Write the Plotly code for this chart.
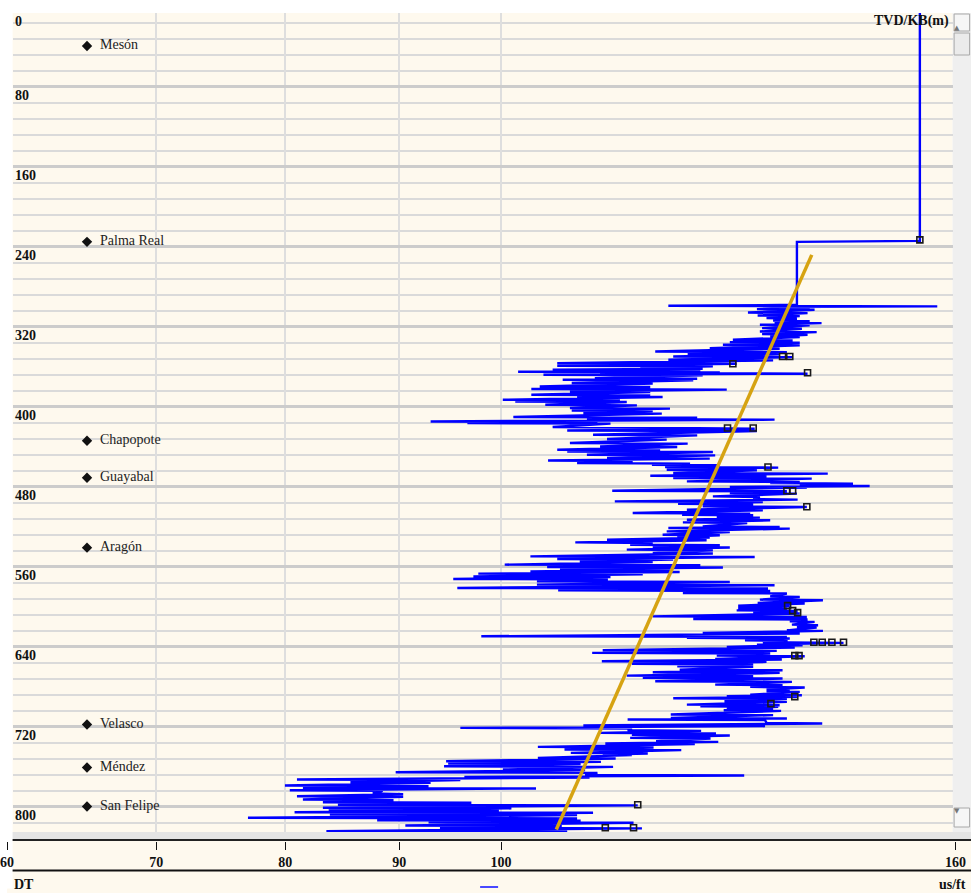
import math
import plotly.graph_objects as go

FIG_W, H = 983, 893

# --- Sonic (DT) log, us/ft vs TVD below KB (m) -------------------------------
# Upper, sparsely sampled part of the log
top_depth = [0, 234, 235, 298]
top_dt = [154.2, 154.2, 135.8, 135.8]

# Dense part: for every depth row, the low and high transit time seen in it
row_depth = [
    299.0, 300.3, 302.3, 305.7, 308.7, 311.3, 313.7, 315.7, 318.0, 321.3,
    324.7, 327.3, 329.7, 333.0, 335.3, 338.0, 341.3, 344.7, 347.0, 349.7,
    353.0, 356.3, 359.0, 361.3, 363.0, 365.0, 366.3, 368.0, 371.3, 373.0,
    376.3, 379.7, 382.3, 384.7, 388.0, 389.7, 393.0, 394.7, 398.0, 401.3,
    403.7, 406.3, 410.3, 412.3, 414.7, 416.3, 420.3, 421.3, 423.7, 428.0,
    432.3, 436.3, 439.7, 443.0, 444.7, 448.0, 451.3, 453.7, 456.3, 458.0,
    460.3, 463.0, 466.3, 469.0, 471.3, 474.7, 476.3, 478.7, 480.3, 484.0,
    486.3, 489.7, 492.3, 494.7, 497.0, 499.7, 503.0, 506.3, 508.0, 510.3,
    513.0, 515.7, 519.7, 521.3, 524.7, 528.0, 530.3, 533.0, 535.7, 538.0,
    540.3, 543.0, 546.3, 549.7, 552.3, 554.7, 558.0, 560.3, 562.3, 564.7,
    567.0, 569.7, 572.3, 574.7, 578.0, 581.3, 583.7, 586.3, 589.7, 593.0,
    596.3, 599.0, 601.3, 603.7, 606.3, 609.7, 612.3, 614.7, 618.0, 620.3,
    623.7, 626.3, 629.7, 631.3, 633.7, 635.7, 638.0, 640.3, 643.7, 646.3,
    649.0, 652.3, 654.7, 657.3, 659.7, 663.0, 665.7, 669.0, 671.3, 674.7,
    678.0, 680.3, 683.0, 684.7, 688.0, 689.7, 691.7, 694.7, 698.0, 699.7,
    702.3, 703.7, 708.0, 711.3, 713.0, 716.3, 719.0, 721.3, 723.7, 726.3,
    728.3, 731.3, 734.7, 737.0, 740.3, 743.0, 746.3, 748.0, 751.3, 754.7,
    757.0, 759.7, 763.0, 765.7, 768.3, 770.3, 773.0, 775.7, 779.0, 781.3,
    783.7, 787.0, 789.7, 793.0, 795.7, 798.3, 801.3, 803.7, 805.7, 808.0,
    811.3, 813.7, 815.7, 819.0, 821.3, 824.7,
]
dt_low = [
    118.9, 132.3, 130.3, 129.1, 130.4, 131.6, 132.5, 132.7, 130.7, 131.0,
    130.7, 131.0, 132.1, 127.1, 126.7, 125.8, 124.1, 117.3, 121.3, 119.5,
    118.9, 106.0, 106.0, 115.5, 105.5, 101.8, 110.8, 104.5, 110.2, 106.6,
    107.6, 104.1, 103.2, 107.4, 103.2, 108.2, 100.2, 101.5, 104.7, 107.4,
    107.6, 108.9, 101.3, 109.3, 93.0, 96.6, 105.5, 122.9, 107.1, 110.0,
    111.6, 107.4, 110.8, 106.0, 107.1, 109.3, 111.6, 105.0, 108.2, 116.9,
    118.5, 118.7, 119.5, 116.7, 119.5, 121.2, 132.1, 136.2, 126.7, 112.2,
    126.7, 124.5, 129.8, 112.5, 120.1, 123.2, 121.2, 114.6, 120.6, 125.0,
    121.2, 120.7, 123.2, 118.9, 118.7, 118.2, 120.0, 111.6, 108.0, 114.3,
    117.0, 113.9, 117.0, 103.1, 106.0, 108.5, 100.4, 104.9, 106.3, 103.1,
    97.7, 97.2, 95.2, 103.8, 103.8, 95.6, 106.1, 120.7, 132.1, 130.7,
    130.4, 127.8, 127.8, 127.6, 129.8, 117.0, 122.0, 134.8, 135.1, 135.8,
    134.4, 123.2, 98.0, 121.2, 128.7, 131.1, 130.3, 126.3, 111.1, 109.9,
    125.0, 124.8, 111.0, 114.5, 120.0, 120.3, 117.0, 113.9, 115.8, 117.3,
    124.8, 129.4, 131.6, 131.6, 129.4, 126.3, 119.5, 126.0, 121.2, 122.9,
    126.3, 125.9, 119.2, 119.2, 114.0, 131.6, 108.9, 95.9, 114.0, 110.7,
    114.5, 114.3, 117.4, 111.4, 103.9, 106.8, 107.5, 111.1, 103.9, 94.5,
    94.7, 94.3, 100.2, 89.7, 109.1, 96.3, 81.0, 85.6, 80.0, 81.5,
    80.4, 87.6, 81.0, 81.5, 83.2, 84.5, 83.2, 83.7, 80.8, 83.8,
    77.0, 88.0, 92.8, 90.6, 93.9, 83.5,
]
dt_high = [
    157.0, 137.6, 138.3, 137.3, 136.2, 135.8, 137.6, 139.3, 137.6, 136.5,
    138.6, 137.3, 136.2, 135.2, 136.2, 136.2, 133.4, 134.4, 133.4, 135.2,
    132.5, 127.6, 124.5, 123.2, 122.9, 125.4, 137.3, 123.2, 122.5, 122.0,
    117.0, 116.7, 126.3, 116.7, 116.7, 118.2, 113.1, 113.9, 115.1, 119.1,
    117.0, 118.1, 122.5, 132.7, 110.5, 112.0, 120.7, 130.0, 130.3, 122.5,
    118.7, 121.3, 120.0, 117.9, 124.5, 124.8, 124.1, 114.6, 121.6, 125.4,
    133.2, 130.3, 140.2, 131.6, 137.9, 136.2, 143.9, 146.4, 137.2, 134.4,
    135.8, 130.7, 135.9, 131.1, 129.8, 137.2, 131.1, 129.4, 129.8, 130.7,
    132.1, 129.0, 133.4, 134.8, 126.7, 125.4, 124.1, 123.7, 117.0, 125.4,
    126.7, 124.5, 124.5, 130.0, 119.5, 117.0, 122.9, 125.8, 119.1, 120.3,
    115.8, 112.0, 111.7, 126.7, 132.7, 131.8, 132.1, 134.4, 136.2, 139.5,
    136.9, 134.8, 134.4, 135.9, 136.2, 137.2, 137.3, 138.3, 138.8, 138.6,
    139.5, 136.2, 134.4, 134.8, 134.5, 142.5, 136.6, 135.5, 133.0, 132.1,
    136.9, 133.7, 131.6, 129.8, 129.8, 133.8, 133.4, 129.8, 133.8, 135.1,
    133.8, 136.9, 134.8, 136.2, 136.5, 135.9, 134.4, 134.4, 133.4, 133.2,
    132.5, 133.6, 132.5, 134.4, 131.4, 139.4, 131.4, 114.5, 123.0, 124.9,
    126.7, 124.2, 125.2, 122.2, 117.1, 120.5, 116.4, 114.5, 112.6, 110.9,
    108.6, 112.3, 109.1, 110.5, 128.6, 109.6, 95.9, 93.0, 92.8, 103.7,
    88.5, 90.4, 90.4, 89.5, 97.0, 115.2, 101.1, 99.8, 110.0, 108.2,
    108.2, 108.6, 114.7, 106.5, 115.7, 107.1,
]

# Flagged samples (small squares on the log)
flag_depth = [233, 349.7, 349.7, 357, 366, 421.3, 421.3, 460.3, 484, 484, 500,
              599, 604, 606, 635.7, 635.7, 635.7, 635.7, 649, 649, 690, 697,
              798.3, 821.3, 821.3]
flag_dt = [154.2, 133.8, 134.8, 127.1, 137.3, 126.4, 129.8, 131.8, 134.4, 135.2,
           137.2, 134.5, 135.2, 135.9, 138.2, 139.4, 140.8, 142.5, 135.5, 136.1,
           135.5, 132.2, 115.2, 111.4, 114.7]

# Normal compaction trend line
trend_depth = [248, 823]
trend_dt = [137.9, 105.9]

# Formation tops
top_names = ["Mesón", "Palma Real", "Chapopote", "Guayabal", "Aragón",
             "Velasco", "Méndez", "San Felipe"]
top_depths = [39, 235, 434, 471, 541, 718, 761, 800]
tops_column_dt = 65.2

# Axis labelling
depth_ticks = [0, 80, 160, 240, 320, 400, 480, 560, 640, 720, 800]
dt_ticks = [60, 70, 80, 90, 100, 160]
dt_tick_text = ["60", "70", "80", "90", "100", "160"]

# --------------------------------------------------------------------------
SERIF = "Liberation Serif, Times New Roman, serif"
CREAM = "#FEF9EE"


def px_x(p):
    # horizontal page pixel -> paper fraction
    return (p - 6.4) / 967.0


def px_y(p):
    return 1 - p / H


# zig-zag through each row's low and high reading
curve_x = list(top_dt)
curve_y = list(top_depth)
for d, lo, hi in zip(row_depth, dt_low, dt_high):
    curve_x += [lo, hi]
    curve_y += [d, d + 0.6]

fig = go.Figure()

fig.add_trace(go.Scatter(
    x=curve_x, y=curve_y, mode="lines",
    line=dict(color="#0000FF", width=2.4),
    hoverinfo="skip",
))

fig.add_trace(go.Scatter(
    x=trend_dt, y=trend_depth, mode="lines",
    line=dict(color="#D6A312", width=3.5),
    hoverinfo="skip",
))

fig.add_trace(go.Scatter(
    x=flag_dt, y=flag_depth, mode="markers",
    marker=dict(symbol="square-open", size=6, color="#1a1a1a",
                line=dict(width=1.6, color="#1a1a1a")),
    hoverinfo="skip",
))

fig.add_trace(go.Scatter(
    x=[tops_column_dt] * len(top_depths), y=top_depths,
    mode="markers+text", text=["\u00a0\u00a0" + n for n in top_names],
    textposition="middle right",
    marker=dict(symbol="diamond", size=8, color="#111111"),
    textfont=dict(family=SERIF, size=14, color="#222222"),
    hoverinfo="skip",
))

# carrier for the bottom DT scale
fig.add_trace(go.Scatter(
    x=[60, 160], y=[0, 0], xaxis="x2", yaxis="y2", mode="markers",
    marker=dict(opacity=0), hoverinfo="skip",
))

shapes = [
    # bottom scale panel
    dict(type="rect", xref="paper", yref="paper", x0=px_x(12), x1=1,
         y0=px_y(893), y1=px_y(839), fillcolor=CREAM, line_width=0, layer="below"),
    dict(type="rect", xref="paper", yref="paper", x0=px_x(12), x1=1,
         y0=px_y(839), y1=px_y(832), fillcolor="#E4E4E4", line_width=0, layer="below"),
    dict(type="line", xref="paper", yref="paper", x0=px_x(12), x1=1,
         y0=px_y(840), y1=px_y(840), line=dict(color="#222222", width=2)),
    dict(type="line", xref="paper", yref="paper", x0=px_x(12), x1=1,
         y0=px_y(870.5), y1=px_y(870.5), line=dict(color="#111111", width=2)),
    # legend swatch
    dict(type="line", xref="paper", yref="paper", x0=px_x(480), x1=px_x(498),
         y0=px_y(887), y1=px_y(887), line=dict(color="#4848FF", width=2)),
    # scrollbar
    dict(type="rect", xref="paper", yref="paper", x0=px_x(953), x1=1,
         y0=px_y(832), y1=px_y(13), fillcolor="#EFEFEF", line_width=0, layer="below"),
    dict(type="rect", xref="paper", yref="paper", x0=px_x(954.5), x1=px_x(970),
         y0=px_y(31), y1=px_y(14), fillcolor="#F6F6F6",
         line=dict(color="#A8A8A8", width=1)),
    dict(type="rect", xref="paper", yref="paper", x0=px_x(954.5), x1=px_x(970),
         y0=px_y(55), y1=px_y(33), fillcolor="#EBEBEB",
         line=dict(color="#A8A8A8", width=1)),
    dict(type="rect", xref="paper", yref="paper", x0=px_x(954.5), x1=px_x(970),
         y0=px_y(827), y1=px_y(808), fillcolor="#F6F6F6",
         line=dict(color="#A8A8A8", width=1)),
]

annotations = []
for d in depth_ticks:
    annotations.append(dict(
        x=px_x(12), xref="paper", y=max(d, 6), yref="y",
        xanchor="left", yanchor="top", showarrow=False, yshift=1,
        text=str(d), font=dict(family=SERIF, size=14, color="#111111", weight="bold"),
    ))
annotations += [
    dict(x=px_x(951), y=px_y(21), xref="paper", yref="paper", xanchor="right",
         yanchor="middle", showarrow=False, text="TVD/KB(m)",
         font=dict(family=SERIF, size=14, color="#111111", weight="bold")),
    dict(x=px_x(11), y=px_y(884), xref="paper", yref="paper", xanchor="left",
         yanchor="middle", showarrow=False, text="DT",
         font=dict(family=SERIF, size=14, color="#111111", weight="bold")),
    dict(x=px_x(968), y=px_y(884), xref="paper", yref="paper", xanchor="right",
         yanchor="middle", showarrow=False, text="us/ft",
         font=dict(family=SERIF, size=14, color="#111111", weight="bold")),
    dict(x=px_x(962), y=px_y(22), xref="paper", yref="paper", showarrow=False,
         text="▲", font=dict(family="DejaVu Sans", size=7, color="#777777")),
    dict(x=px_x(962), y=px_y(817), xref="paper", yref="paper", showarrow=False,
         text="▼", font=dict(family="DejaVu Sans", size=7, color="#777777")),
]

fig.update_layout(
    width=FIG_W, height=H,
    margin=dict(l=0, r=0, t=0, b=0),
    paper_bgcolor="white", plot_bgcolor=CREAM,
    showlegend=False,
    xaxis=dict(
        domain=[px_x(12), px_x(953)], type="log",
        range=[math.log10(60.373), math.log10(159.51)],
        tickvals=[70, 80, 90, 100], showticklabels=False, ticks="",
        showgrid=True, gridcolor="#DEDEDE", gridwidth=1.5,
        zeroline=False, showline=False, fixedrange=True,
    ),
    yaxis=dict(
        domain=[px_y(832), px_y(13)], range=[825.5, 6.0],
        tick0=0, dtick=80, showgrid=True, gridcolor="#CCCCCC", gridwidth=3,
        minor=dict(tick0=0, dtick=16, showgrid=True, gridcolor="#DADADA", gridwidth=1.5),
        showticklabels=False, ticks="", zeroline=False, showline=False, fixedrange=True,
    ),
    xaxis2=dict(
        domain=[px_x(6.5), px_x(956)], type="log",
        range=[math.log10(60), math.log10(160)],
        anchor="free", position=px_y(841), side="bottom",
        tickvals=dt_ticks, ticktext=dt_tick_text, ticklabeloverflow="allow",
        ticks="outside", ticklen=8, tickwidth=1.2, tickcolor="#111111",
        tickfont=dict(family=SERIF, size=14, color="#111111", weight="bold"),
        showgrid=False, zeroline=False, showline=False, fixedrange=True,
    ),
    yaxis2=dict(domain=[0, 0.005], visible=False, fixedrange=True),
    shapes=shapes,
    annotations=annotations,
)

page_css = (
    "document.documentElement.style.margin='0';"
    "document.documentElement.style.overflow='hidden';"
    "document.body.style.margin='0';"
    "document.body.style.overflow='hidden';"
)

fig.write_html("out.html", post_script=page_css)
